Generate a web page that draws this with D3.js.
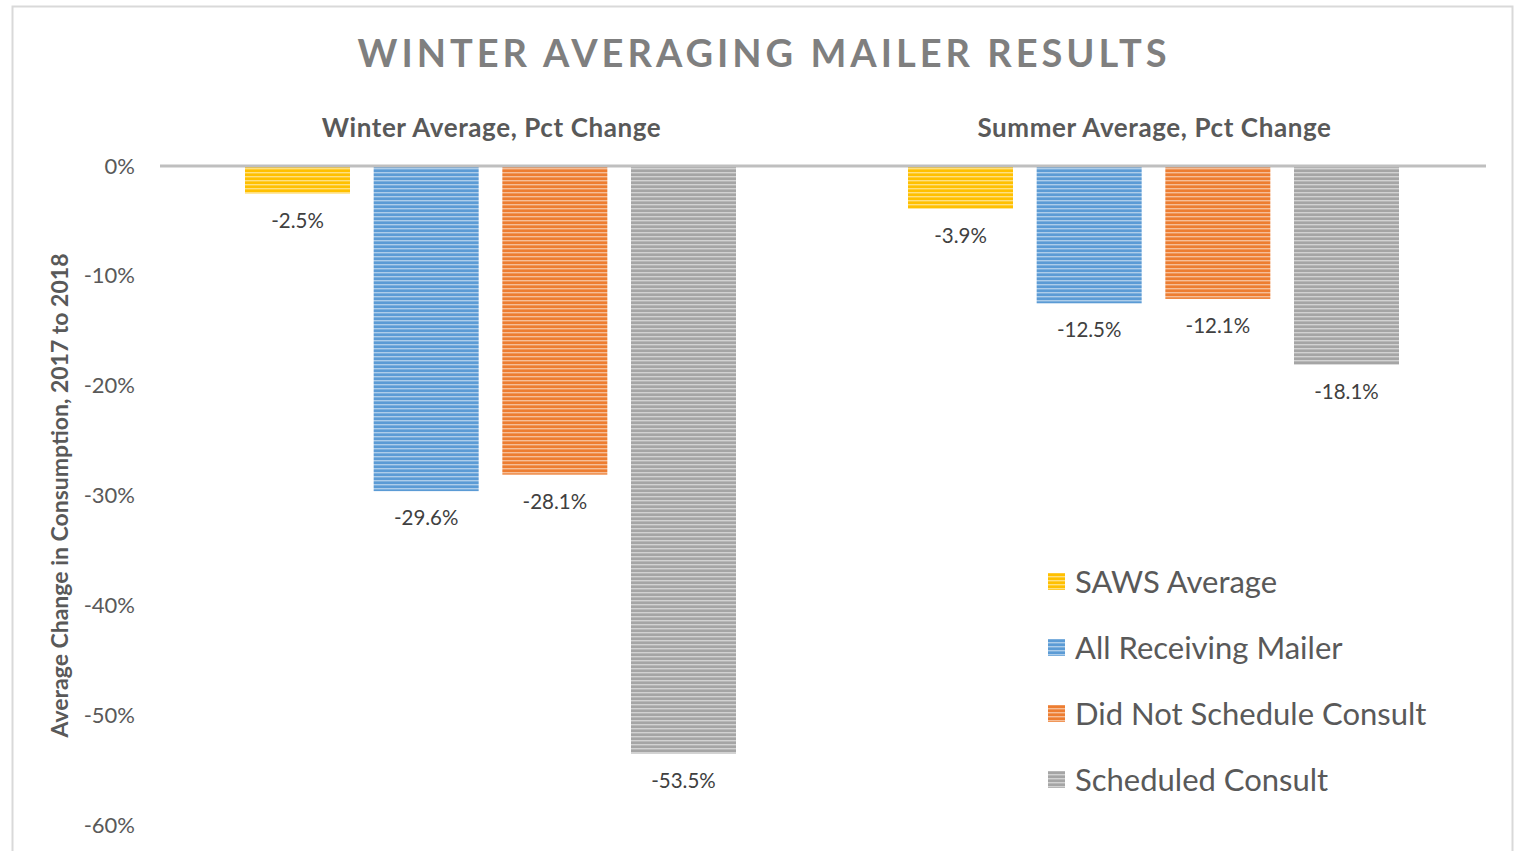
<!DOCTYPE html>
<html>
<head>
    <meta charset="utf-8">
    <script src="https://cdnjs.cloudflare.com/ajax/libs/d3/7.8.5/d3.min.js"></script>
    <style>
        body {
            margin: 0;
            background-color: #fff;
            font-family: Lato, 'Open Sans', sans-serif;
        }
        .axis text { fill: #595959; font-size: 22px; }
    </style>
</head>
<body>
    <svg width="1517" height="851"></svg>
    <script>
        // data
        var groups = ["Winter Average, Pct Change", "Summer Average, Pct Change"];
        var seriesNames = ["SAWS Average", "All Receiving Mailer", "Did Not Schedule Consult", "Scheduled Consult"];
        var winterValues = [-2.5, -29.6, -28.1, -53.5];
        var summerValues = [-3.9, -12.5, -12.1, -18.1];
        var tickValues = [0, -10, -20, -30, -40, -50, -60];
        var colors = ["#ffc000", "#5b9bd5", "#ed7d31", "#a5a5a5"];

        var svg = d3.select("svg"),
            margin = {top: 166, right: 31, bottom: 26, left: 160},
            width = 1517 - margin.left - margin.right,
            height = 851 - margin.top - margin.bottom;

        // chart border
        svg.append("rect")
            .attr("x", 12.5).attr("y", 6.5)
            .attr("width", 1500).attr("height", 900)
            .attr("fill", "none")
            .attr("stroke", "#d9d9d9")
            .attr("stroke-width", 2);

        // striped fills
        var defs = svg.append("defs");
        colors.forEach(function(c, i) {
            var p = defs.append("pattern")
                .attr("id", "stripe" + i)
                .attr("patternUnits", "userSpaceOnUse")
                .attr("width", 8).attr("height", 4);
            p.append("rect").attr("width", 8).attr("height", 4).attr("fill", c);
            p.append("rect").attr("y", 2).attr("width", 8).attr("height", 1.4)
                .attr("fill", d3.interpolateRgb(c, "#fff")(0.5));
        });

        var g = svg.append("g").attr("transform", "translate(" + margin.left + "," + margin.top + ")");

        // scales
        var x0 = d3.scaleBand().domain(groups).range([0, width]),
            x1 = d3.scaleBand().domain(seriesNames).range([85, x0.bandwidth() - 87]).paddingInner(0.184),
            y = d3.scaleLinear().domain([-60, 0]).range([height - 0, 0]);

        // y axis
        g.append("g")
            .attr("class", "axis")
            .attr("transform", "translate(-25,0)")
            .call(d3.axisLeft(y).tickValues(tickValues).tickSize(0).tickPadding(0).tickFormat(function(d) { return d + "%"; }))
            .call(function(a) { a.select(".domain").remove(); })
            .selectAll("text").style("font-family", "Lato");

        // title
        svg.append("text")
            .attr("x", 764).attr("y", 67)
            .attr("text-anchor", "middle")
            .style("font-size", "38px").style("font-weight", "bold")
            .style("letter-spacing", "4px")
            .style("fill", "#7f7f7f")
            .text("WINTER AVERAGING MAILER RESULTS");

        // y axis title
        svg.append("text")
            .attr("transform", "translate(68," + (margin.top + y(-30)) + ") rotate(-90)")
            .attr("text-anchor", "middle")
            .style("font-size", "23px").style("font-weight", "bold")
            .style("fill", "#595959")
            .text("Average Change in Consumption, 2017 to 2018");

        var data = [winterValues, summerValues];

        var grp = g.selectAll(".grp")
            .data(groups)
            .enter().append("g")
            .attr("class", "grp")
            .attr("transform", function(d) { return "translate(" + x0(d) + ",0)"; });

        // category labels
        grp.append("text")
            .attr("x", x0.bandwidth() / 2)
            .attr("y", -29)
            .attr("text-anchor", "middle")
            .style("font-size", "26px").style("font-weight", "bold")
            .style("letter-spacing", "0.6px")
            .style("fill", "#595959")
            .text(function(d) { return d; });

        grp.each(function(gName, gi) {
            var vals = data[gi].map(function(v, i) { return {name: seriesNames[i], value: v, i: i}; });
            var sel = d3.select(this);
            sel.selectAll("rect")
                .data(vals)
                .enter().append("rect")
                .attr("x", function(d) { return x1(d.name); })
                .attr("y", y(0))
                .attr("width", x1.bandwidth())
                .attr("height", function(d) { return y(d.value) - y(0); })
                .attr("fill", function(d) { return "url(#stripe" + d.i + ")"; });
            sel.selectAll(".lbl")
                .data(vals)
                .enter().append("text")
                .attr("class", "lbl")
                .attr("x", function(d) { return x1(d.name) + x1.bandwidth() / 2; })
                .attr("y", function(d) { return y(d.value) + 27; })
                .attr("dy", "0.35em")
                .attr("text-anchor", "middle")
                .style("font-size", "20.5px")
                .style("fill", "#404040")
                .text(function(d) { return d.value.toFixed(1) + "%"; });
        });

        // zero line
        g.append("line")
            .attr("x1", 0).attr("x2", width)
            .attr("y1", y(0)).attr("y2", y(0))
            .attr("stroke", "#bfbfbf")
            .attr("stroke-width", 3);

        // legend
        var legend = svg.append("g").attr("transform", "translate(1048,582)");
        var item = legend.selectAll(".item")
            .data(seriesNames)
            .enter().append("g")
            .attr("class", "item")
            .attr("transform", function(d, i) { return "translate(0," + (i * 66) + ")"; });
        item.append("rect")
            .attr("y", -9).attr("width", 17).attr("height", 17)
            .attr("fill", function(d, i) { return "url(#stripe" + i + ")"; });
        item.append("text")
            .attr("x", 27).attr("dy", "0.35em")
            .style("font-size", "31px")
            .style("fill", "#595959")
            .text(function(d) { return d; });
    </script>
</body>
</html>
